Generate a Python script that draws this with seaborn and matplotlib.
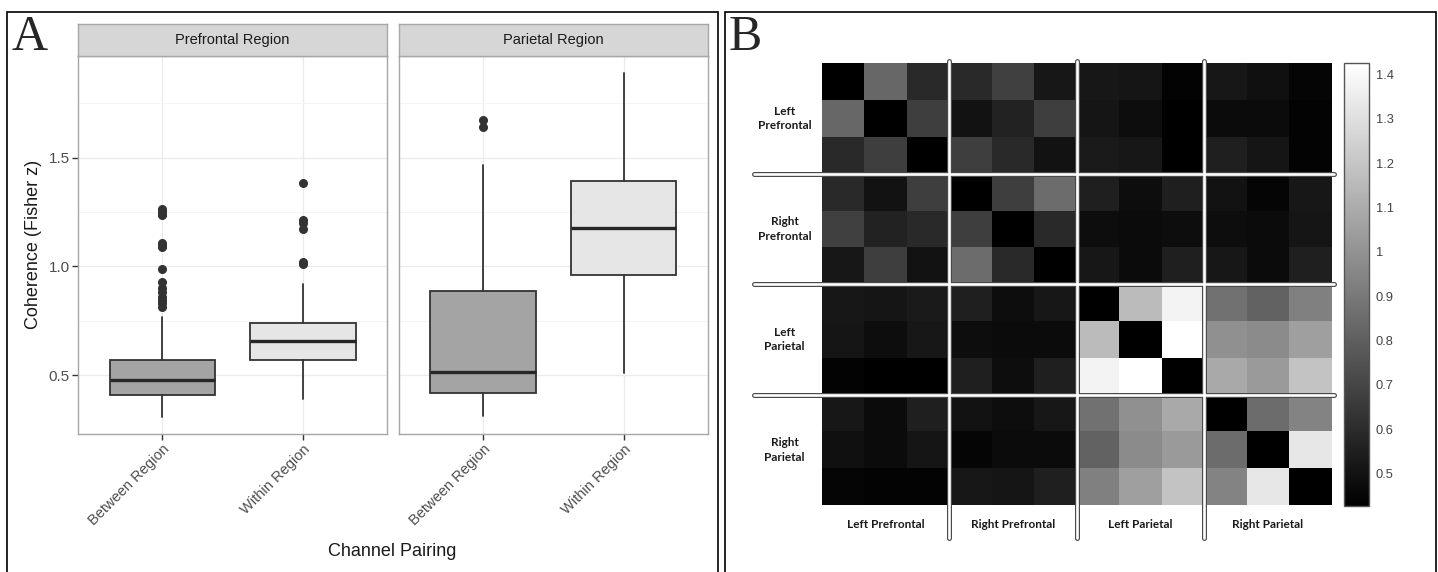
import matplotlib
matplotlib.use("Agg")
import matplotlib.pyplot as plt
from matplotlib.patches import Rectangle
from matplotlib.ticker import FixedLocator, FuncFormatter
import numpy as np
import pandas as pd
import seaborn as sns

# ---- panel A : box summaries ----
regions = ["Prefrontal Region", "Parietal Region"]
pairings = ["Between Region", "Within Region"]
# [between, within] for each region
whisker_low = [[0.307, 0.388], [0.312, 0.508]]
box_q1 = [[0.409, 0.567], [0.419, 0.958]]
box_median = [[0.475, 0.658], [0.513, 1.176]]
box_q3 = [[0.567, 0.740], [0.886, 1.394]]
whisker_high = [[0.768, 0.918], [1.465, 1.889]]
outliers = [
    [[1.265, 1.255, 1.243, 1.235, 1.109, 1.097, 1.087, 0.987, 0.928,
      0.899, 0.883, 0.857, 0.846, 0.832, 0.812],
     [1.383, 1.211, 1.201, 1.171, 1.020, 1.010]],
    [[1.671, 1.641], []],
]
box_fill = ["#a4a4a4", "#e6e6e6"]

# ---- panel B : channel coherence matrix ----
groups = ["Left Prefrontal", "Right Prefrontal", "Left Parietal", "Right Parietal"]
row_labels = ["Left\nPrefrontal", "Right\nPrefrontal", "Left\nParietal", "Right\nParietal"]
coherence = [
    [0.43, 0.83, 0.59, 0.59, 0.68, 0.52, 0.52, 0.51, 0.44, 0.52, 0.49, 0.45],
    [0.83, 0.43, 0.67, 0.50, 0.56, 0.67, 0.51, 0.48, 0.43, 0.47, 0.47, 0.44],
    [0.59, 0.67, 0.43, 0.67, 0.59, 0.50, 0.53, 0.52, 0.43, 0.55, 0.51, 0.44],
    [0.59, 0.50, 0.67, 0.43, 0.67, 0.85, 0.55, 0.48, 0.55, 0.50, 0.45, 0.52],
    [0.68, 0.56, 0.59, 0.67, 0.43, 0.59, 0.48, 0.47, 0.48, 0.48, 0.47, 0.51],
    [0.52, 0.67, 0.50, 0.85, 0.59, 0.43, 0.52, 0.47, 0.55, 0.52, 0.47, 0.55],
    [0.52, 0.51, 0.53, 0.55, 0.48, 0.52, 0.43, 1.16, 1.38, 0.87, 0.81, 0.93],
    [0.51, 0.48, 0.52, 0.48, 0.47, 0.47, 1.16, 0.43, 1.43, 0.99, 0.97, 1.05],
    [0.44, 0.43, 0.43, 0.55, 0.48, 0.55, 1.38, 1.43, 0.43, 1.09, 1.03, 1.19],
    [0.52, 0.47, 0.55, 0.50, 0.48, 0.52, 0.87, 0.99, 1.09, 0.43, 0.85, 0.94],
    [0.49, 0.47, 0.51, 0.45, 0.47, 0.47, 0.81, 0.97, 1.03, 0.85, 0.43, 1.33],
    [0.45, 0.44, 0.44, 0.52, 0.51, 0.55, 0.93, 1.05, 1.19, 0.94, 1.33, 0.43],
]
cbar_ticks = [0.5, 0.6, 0.7, 0.8, 0.9, 1.0, 1.1, 1.2, 1.3, 1.4]
per_group = 3

sns.set_theme(style="white")
plt.rcParams["font.family"] = ["Liberation Sans", "DejaVu Sans"]

W, H = 1438, 572
fig = plt.figure(figsize=(W / 100, H / 100), dpi=100)


def rect(x0, y0, x1, y1):
    # pixel box -> figure fraction
    return [x0 / W, 1 - y1 / H, (x1 - x0) / W, (y1 - y0) / H]


# panel frames
fig.patches.append(Rectangle((7 / W, -0.02), 711 / W, 1.02 - 12 / H, transform=fig.transFigure,
                             fill=False, edgecolor="black", lw=1.2))
fig.patches.append(Rectangle((725 / W, -0.02), 711 / W, 1.02 - 12 / H, transform=fig.transFigure,
                             fill=False, edgecolor="black", lw=1.2))
fig.text(11 / W, 1 - 50 / H, "A", family="Liberation Serif", fontsize=36, va="baseline")
fig.text(729 / W, 1 - 50 / H, "B", family="Liberation Serif", fontsize=36, va="baseline")

# ---------------- panel A ----------------
panel_px = [(78, 387.3), (398.7, 708)]
for r, region in enumerate(regions):
    x0, x1 = panel_px[r]
    ax = fig.add_axes(rect(x0, 55.5, x1, 434))
    st = fig.add_axes(rect(x0, 24, x1, 55.5))
    st.set_facecolor("#d6d6d6")
    st.set_xticks([])
    st.set_yticks([])
    for s in st.spines.values():
        s.set_color("#a8a8a8")
        s.set_linewidth(1)
    st.text(0.5, 0.5, region, ha="center", va="center", fontsize=10.5, color="#1a1a1a",
            transform=st.transAxes)

    stats = []
    for p, name in enumerate(pairings):
        stats.append(dict(whislo=whisker_low[r][p], q1=box_q1[r][p], med=box_median[r][p],
                          q3=box_q3[r][p], whishi=whisker_high[r][p], fliers=outliers[r][p],
                          label=name))
    bp = ax.bxp(stats, positions=range(len(pairings)), widths=0.75, patch_artist=True,
                showcaps=False, zorder=3,
                boxprops=dict(edgecolor="#333333", linewidth=1.3),
                whiskerprops=dict(color="#333333", linewidth=1.3),
                medianprops=dict(color="#262626", linewidth=2.4),
                flierprops=dict(marker="o", markerfacecolor="#333333", markeredgecolor="#333333",
                                markersize=5.5))
    for patch, c in zip(bp["boxes"], box_fill):
        patch.set_facecolor(c)

    ax.set_xlim(-0.6, 1.6)
    ax.set_ylim(0.2286, 1.970)
    ax.set_facecolor("white")
    ax.yaxis.set_major_locator(FixedLocator([0.5, 1.0, 1.5]))
    ax.yaxis.set_minor_locator(FixedLocator([0.75, 1.25, 1.75]))
    ax.grid(True, which="major", color="#ebebeb", lw=0.9)
    ax.grid(True, which="minor", axis="y", color="#f2f2f2", lw=0.6)
    ax.set_axisbelow(True)
    for s in ax.spines.values():
        s.set_color("#a6a6a6")
        s.set_linewidth(1)
    ax.set_xticks(range(len(pairings)))
    ax.set_xticklabels(pairings, rotation=45, ha="right", va="top", rotation_mode="anchor",
                       fontsize=10.5, color="#4d4d4d")
    ax.tick_params(axis="x", bottom=True, length=4, width=1, color="#333333", pad=2)
    ax.set_xlabel("")
    if r == 0:
        ax.set_yticklabels(["0.5", "1.0", "1.5"], fontsize=11, color="#4d4d4d")
        ax.tick_params(axis="y", which="major", left=True, length=4, width=1, color="#333333", pad=2)
        ax.tick_params(axis="y", which="minor", left=False)
        ax.set_ylabel("Coherence (Fisher z)", fontsize=13, color="#1a1a1a")
        ax.yaxis.set_label_coords(-0.115, 0.5)
    else:
        ax.tick_params(axis="y", which="both", left=False, labelleft=False)

fig.text(392.6 / W, 1 - 551 / H, "Channel Pairing", ha="center", va="center", fontsize=13,
         color="#1a1a1a")

# ---------------- panel B ----------------
axh = fig.add_axes(rect(821.7, 63.3, 1331.5, 505))
axc = fig.add_axes(rect(1343.6, 62.7, 1369, 506))
mat = pd.DataFrame(coherence)
sns.heatmap(mat, cmap="gray", vmin=0.427, vmax=1.427, ax=axh, cbar_ax=axc,
            xticklabels=False, yticklabels=False, cbar_kws={"ticks": cbar_ticks})
cb = axh.collections[0].colorbar
cb.outline.set_edgecolor("#555555")
cb.outline.set_linewidth(1)
axc.yaxis.set_major_formatter(FuncFormatter(lambda v, pos: "%g" % round(v, 1)))
axc.tick_params(direction="in", length=3, width=0.8, colors="#333333", labelsize=9.3, pad=5,
                labelcolor="#444444")

n = len(coherence)
label_font = dict(family=["Lato", "DejaVu Sans"], fontweight="bold", fontsize=8.5, color="#1a1a1a")
for g in range(1, len(groups)):
    pos = g * per_group
    # vertical separators
    axh.plot([pos, pos], [-0.05, n + 0.9], color="#4a4a4a", lw=3.6, solid_capstyle="round",
             clip_on=False, zorder=5)
    axh.plot([pos, pos], [-0.05, n + 0.9], color="white", lw=1.9, solid_capstyle="round",
             clip_on=False, zorder=6)
    # horizontal separators
    axh.plot([-1.59, n + 0.05], [pos, pos], color="#4a4a4a", lw=3.6, solid_capstyle="round",
             clip_on=False, zorder=5)
    axh.plot([-1.59, n + 0.05], [pos, pos], color="white", lw=1.9, solid_capstyle="round",
             clip_on=False, zorder=6)

for g, name in enumerate(groups):
    centre = g * per_group + per_group / 2
    axh.text(centre, n + 0.53, name, ha="center", va="center", **label_font)
    axh.text(-0.87, centre, row_labels[g], ha="center", va="center", linespacing=1.4, **label_font)

fig.savefig("out.png", dpi=100)
